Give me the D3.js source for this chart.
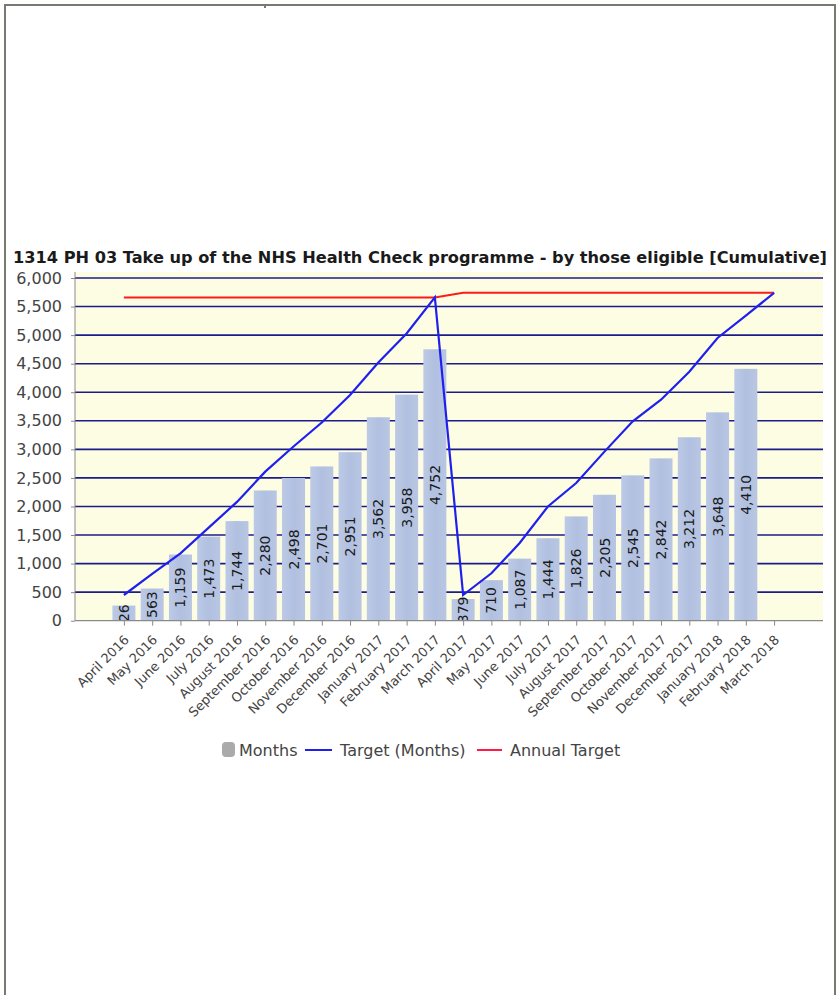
<!DOCTYPE html>
<html>
<head>
<meta charset="utf-8">
<script src="https://cdn.jsdelivr.net/npm/d3@7"></script>
<style>
  html, body { margin: 0; padding: 0; background: #fff; }
  svg { display: block; }
  text { font-family: "DejaVu Sans", Verdana, sans-serif; }
</style>
</head>
<body>
<svg id="chart" width="840" height="995"></svg>
<script>
// ---- data ----
const months = ["April 2016","May 2016","June 2016","July 2016","August 2016","September 2016",
  "October 2016","November 2016","December 2016","January 2017","February 2017","March 2017",
  "April 2017","May 2017","June 2017","July 2017","August 2017","September 2017",
  "October 2017","November 2017","December 2017","January 2018","February 2018","March 2018"];
const actual = [265, 563, 1159, 1473, 1744, 2280, 2498, 2701, 2951, 3562, 3958, 4752,
  379, 710, 1087, 1444, 1826, 2205, 2545, 2842, 3212, 3648, 4410, null];
const barLabels = ["26","563","1,159","1,473","1,744","2,280","2,498","2,701","2,951","3,562","3,958","4,752",
  "379","710","1,087","1,444","1,826","2,205","2,545","2,842","3,212","3,648","4,410",""];
const target = [450, 820, 1180, 1630, 2080, 2610, 3050, 3470, 3950, 4520, 5030, 5660,
  450, 830, 1360, 2000, 2410, 2960, 3490, 3870, 4360, 4950, 5340, 5740];
const annual = [5660,5660,5660,5660,5660,5660,5660,5660,5660,5660,5660,5660,
  5740,5740,5740,5740,5740,5740,5740,5740,5740,5740,5740,5740];
const yTicks = [0,500,1000,1500,2000,2500,3000,3500,4000,4500,5000,5500,6000];
const title = "1314 PH 03 Take up of the NHS Health Check programme - by those eligible [Cumulative]";
const legendItems = ["Months", "Target (Months)", "Annual Target"];

// ---- layout ----
const svg = d3.select("#chart");
const L = 75, R = 823, T = 278, B = 620.7;

const x = d3.scalePoint().domain(months).range([L, R]).padding(1.73);
const y = d3.scaleLinear().domain([0, 6000]).range([B, T]);

// frame
const frame = svg.append("g").attr("stroke", "#777a6e").attr("stroke-width", 2).attr("fill", "none");
frame.append("line").attr("x1", 4).attr("x2", 836).attr("y1", 5).attr("y2", 5);
frame.append("line").attr("x1", 5).attr("x2", 5).attr("y1", 5).attr("y2", 995);
frame.append("line").attr("x1", 835).attr("x2", 835).attr("y1", 5).attr("y2", 995);
frame.append("line").attr("x1", 265).attr("x2", 265).attr("y1", 5).attr("y2", 8);

// title
svg.append("text")
  .attr("x", 13).attr("y", 263)
  .attr("font-size", 16).attr("font-weight", "bold").attr("fill", "#1a1a1a")
  .attr("textLength", 814).attr("lengthAdjust", "spacingAndGlyphs")
  .text(title);

// plot background
svg.append("rect").attr("x", L).attr("y", 272).attr("width", R - L).attr("height", B - 272)
  .attr("fill", "#fdfde3");

// gridlines
svg.append("g").selectAll("line").data(yTicks.filter(d => d > 0)).join("line")
  .attr("x1", L).attr("x2", R)
  .attr("y1", d => y(d)).attr("y2", d => y(d))
  .attr("stroke", "#1c1c88").attr("stroke-width", 1.6);

// bar gradient
const defs = svg.append("defs");
const grad = defs.append("linearGradient").attr("id", "barGrad").attr("x1", 0).attr("x2", 1).attr("y1", 0).attr("y2", 0);
grad.append("stop").attr("offset", "0%").attr("stop-color", "#bccae6");
grad.append("stop").attr("offset", "50%").attr("stop-color", "#b1c0e0");
grad.append("stop").attr("offset", "100%").attr("stop-color", "#b9c6e3");
defs.append("clipPath").attr("id", "plotClip").append("rect")
  .attr("x", L).attr("y", 260).attr("width", R - L).attr("height", B - 260);

const bw = 23;
const barData = months.map((m, i) => ({ m, v: actual[i], lab: barLabels[i] })).filter(d => d.v != null);

svg.append("g").selectAll("rect").data(barData).join("rect")
  .attr("x", d => x(d.m) - bw / 2).attr("width", bw)
  .attr("y", d => y(d.v)).attr("height", d => B - y(d.v))
  .attr("fill", "url(#barGrad)");

// bar labels
svg.append("g").attr("clip-path", "url(#plotClip)").selectAll("text").data(barData).join("text")
  .attr("transform", d => `translate(${x(d.m)},${y(d.v / 2)}) rotate(-90)`)
  .attr("text-anchor", "middle").attr("dy", "0.36em")
  .attr("font-size", 14).attr("fill", "#1a1a1a")
  .text(d => d.lab);

// lines
const line = d3.line().x(d => x(d.m)).y(d => y(d.v));
svg.append("path")
  .datum(months.map((m, i) => ({ m, v: annual[i] })))
  .attr("d", line).attr("fill", "none").attr("stroke", "#ff1a1a").attr("stroke-width", 2);
svg.append("path")
  .datum(months.map((m, i) => ({ m, v: target[i] })))
  .attr("d", line).attr("fill", "none").attr("stroke", "#2020ee").attr("stroke-width", 2.2);

// axes
const axisColor = "#8a8a8a";
svg.append("line").attr("x1", L).attr("x2", R).attr("y1", B).attr("y2", B)
  .attr("stroke", axisColor).attr("stroke-width", 1.2);
svg.append("line").attr("x1", L).attr("x2", L).attr("y1", 272).attr("y2", B)
  .attr("stroke", axisColor).attr("stroke-width", 1);

const xAxis = svg.append("g").attr("transform", `translate(0,${B})`)
  .call(d3.axisBottom(x).tickSize(5).tickSizeOuter(0).tickFormat(""));
xAxis.select(".domain").remove();
xAxis.selectAll(".tick line").attr("stroke", axisColor);

svg.append("g").selectAll("text").data(months).join("text")
  .attr("transform", d => `translate(${x(d) + 6},${B + 20}) rotate(-45)`)
  .attr("text-anchor", "end")
  .attr("font-size", 13).attr("fill", "#444")
  .text(d => d);

const yAxis = svg.append("g").attr("transform", `translate(${L},0)`)
  .call(d3.axisLeft(y).tickValues(yTicks).tickSize(4).tickPadding(9).tickFormat(d3.format(",")));
yAxis.select(".domain").remove();
yAxis.selectAll(".tick line").attr("stroke", axisColor);
yAxis.selectAll(".tick text").attr("font-size", 16).attr("fill", "#444")
  .attr("font-family", "\"DejaVu Sans\", Verdana, sans-serif");

// legend
const lg = svg.append("g").attr("font-size", 16).attr("fill", "#444");
lg.append("rect").attr("x", 222).attr("y", 742).attr("width", 13).attr("height", 15).attr("rx", 4)
  .attr("fill", "#aaaaaa");
lg.append("text").attr("x", 239).attr("y", 756).text(legendItems[0]);
lg.append("line").attr("x1", 305).attr("x2", 332).attr("y1", 750).attr("y2", 750)
  .attr("stroke", "#2020ee").attr("stroke-width", 2);
lg.append("text").attr("x", 340).attr("y", 756).text(legendItems[1]);
lg.append("line").attr("x1", 477).attr("x2", 502).attr("y1", 750).attr("y2", 750)
  .attr("stroke", "#ff1a4a").attr("stroke-width", 2);
lg.append("text").attr("x", 510).attr("y", 756).text(legendItems[2]);
</script>
</body>
</html>
